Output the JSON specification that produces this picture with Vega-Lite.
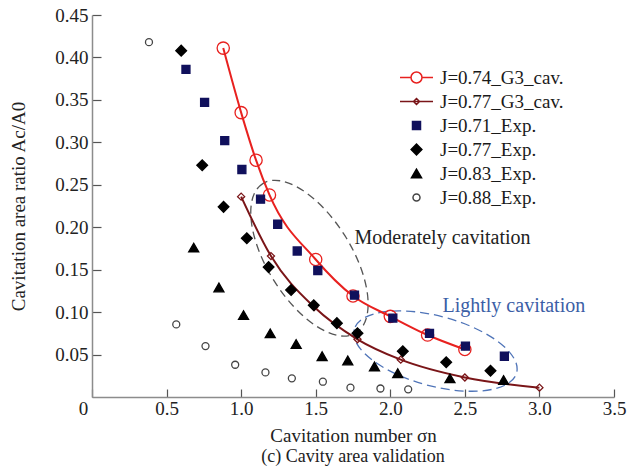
{
  "$schema": "https://vega.github.io/schema/vega-lite/v6.json",
  "width": 522,
  "height": 382,
  "autosize": "none",
  "padding": {"left": 92, "top": 15, "right": 14, "bottom": 75},
  "background": "white",
  "config": {
    "font": "Liberation Serif",
    "view": {"stroke": null},
    "axis": {
      "grid": false,
      "labelFontSize": 19,
      "titleFontSize": 19,
      "titleFontWeight": "normal",
      "labelColor": "#222222",
      "titleColor": "#222222",
      "domainColor": "#8c8c8c",
      "domainWidth": 1.5,
      "tickColor": "#555555",
      "tickWidth": 1.2,
      "labelFlush": false,
      "labelOverlap": false,
      "labelBound": false
    },
    "legend": {
      "padding": 0,
      "labelFont": "Liberation Serif",
      "labelFontSize": 19,
      "labelColor": "#1a1a1a",
      "labelOffset": 14,
      "symbolStrokeWidth": 1.5,
      "symbolOpacity": 1,
      "rowPadding": 4
    }
  },
  "title": {
    "text": "(c) Cavity area validation",
    "orient": "bottom",
    "anchor": "middle",
    "frame": "group",
    "fontSize": 18,
    "fontWeight": "normal",
    "font": "Liberation Serif",
    "color": "#222222",
    "offset": 3
  },
  "datasets": {
    "points": [
      {"series": "J=0.74_G3_cav.", "sigma": 0.88, "ratio": 0.411},
      {"series": "J=0.74_G3_cav.", "sigma": 1.0, "ratio": 0.335},
      {"series": "J=0.74_G3_cav.", "sigma": 1.1, "ratio": 0.279},
      {"series": "J=0.74_G3_cav.", "sigma": 1.19, "ratio": 0.238},
      {"series": "J=0.74_G3_cav.", "sigma": 1.5, "ratio": 0.162},
      {"series": "J=0.74_G3_cav.", "sigma": 1.75, "ratio": 0.119},
      {"series": "J=0.74_G3_cav.", "sigma": 2.0, "ratio": 0.095},
      {"series": "J=0.74_G3_cav.", "sigma": 2.25, "ratio": 0.073},
      {"series": "J=0.74_G3_cav.", "sigma": 2.5, "ratio": 0.056},
      {"series": "J=0.77_G3_cav.", "sigma": 1.0, "ratio": 0.236},
      {"series": "J=0.77_G3_cav.", "sigma": 1.2, "ratio": 0.166},
      {"series": "J=0.77_G3_cav.", "sigma": 1.49, "ratio": 0.106},
      {"series": "J=0.77_G3_cav.", "sigma": 1.78, "ratio": 0.068},
      {"series": "J=0.77_G3_cav.", "sigma": 2.07, "ratio": 0.044},
      {"series": "J=0.77_G3_cav.", "sigma": 2.5, "ratio": 0.023},
      {"series": "J=0.77_G3_cav.", "sigma": 3.0, "ratio": 0.011},
      {"series": "J=0.71_Exp.", "sigma": 0.63, "ratio": 0.386},
      {"series": "J=0.71_Exp.", "sigma": 0.755, "ratio": 0.347},
      {"series": "J=0.71_Exp.", "sigma": 0.89, "ratio": 0.302},
      {"series": "J=0.71_Exp.", "sigma": 1.005, "ratio": 0.268},
      {"series": "J=0.71_Exp.", "sigma": 1.13, "ratio": 0.233},
      {"series": "J=0.71_Exp.", "sigma": 1.245, "ratio": 0.2035},
      {"series": "J=0.71_Exp.", "sigma": 1.376, "ratio": 0.172},
      {"series": "J=0.71_Exp.", "sigma": 1.514, "ratio": 0.149},
      {"series": "J=0.71_Exp.", "sigma": 1.76, "ratio": 0.12},
      {"series": "J=0.71_Exp.", "sigma": 2.017, "ratio": 0.093},
      {"series": "J=0.71_Exp.", "sigma": 2.263, "ratio": 0.075},
      {"series": "J=0.71_Exp.", "sigma": 2.504, "ratio": 0.06},
      {"series": "J=0.71_Exp.", "sigma": 2.765, "ratio": 0.048},
      {"series": "J=0.77_Exp.", "sigma": 0.598, "ratio": 0.408},
      {"series": "J=0.77_Exp.", "sigma": 0.739, "ratio": 0.273},
      {"series": "J=0.77_Exp.", "sigma": 0.882, "ratio": 0.224},
      {"series": "J=0.77_Exp.", "sigma": 1.038, "ratio": 0.187},
      {"series": "J=0.77_Exp.", "sigma": 1.184, "ratio": 0.153},
      {"series": "J=0.77_Exp.", "sigma": 1.335, "ratio": 0.126},
      {"series": "J=0.77_Exp.", "sigma": 1.487, "ratio": 0.108},
      {"series": "J=0.77_Exp.", "sigma": 1.642, "ratio": 0.087},
      {"series": "J=0.77_Exp.", "sigma": 1.78, "ratio": 0.075},
      {"series": "J=0.77_Exp.", "sigma": 2.084, "ratio": 0.054},
      {"series": "J=0.77_Exp.", "sigma": 2.375, "ratio": 0.041},
      {"series": "J=0.77_Exp.", "sigma": 2.672, "ratio": 0.031},
      {"series": "J=0.83_Exp.", "sigma": 0.682, "ratio": 0.176},
      {"series": "J=0.83_Exp.", "sigma": 0.851, "ratio": 0.129},
      {"series": "J=0.83_Exp.", "sigma": 1.016, "ratio": 0.0965},
      {"series": "J=0.83_Exp.", "sigma": 1.195, "ratio": 0.075},
      {"series": "J=0.83_Exp.", "sigma": 1.369, "ratio": 0.0624},
      {"series": "J=0.83_Exp.", "sigma": 1.543, "ratio": 0.048},
      {"series": "J=0.83_Exp.", "sigma": 1.715, "ratio": 0.043},
      {"series": "J=0.83_Exp.", "sigma": 1.894, "ratio": 0.036},
      {"series": "J=0.83_Exp.", "sigma": 2.05, "ratio": 0.028},
      {"series": "J=0.83_Exp.", "sigma": 2.4, "ratio": 0.022},
      {"series": "J=0.83_Exp.", "sigma": 2.76, "ratio": 0.02},
      {"series": "J=0.88_Exp.", "sigma": 0.382, "ratio": 0.418},
      {"series": "J=0.88_Exp.", "sigma": 0.565, "ratio": 0.0855},
      {"series": "J=0.88_Exp.", "sigma": 0.761, "ratio": 0.06},
      {"series": "J=0.88_Exp.", "sigma": 0.96, "ratio": 0.038},
      {"series": "J=0.88_Exp.", "sigma": 1.163, "ratio": 0.029},
      {"series": "J=0.88_Exp.", "sigma": 1.34, "ratio": 0.022},
      {"series": "J=0.88_Exp.", "sigma": 1.548, "ratio": 0.018},
      {"series": "J=0.88_Exp.", "sigma": 1.733, "ratio": 0.011},
      {"series": "J=0.88_Exp.", "sigma": 1.934, "ratio": 0.01},
      {"series": "J=0.88_Exp.", "sigma": 2.12, "ratio": 0.009}
    ],
    "notes": [
      {"kind": "ellipse", "name": "Moderately cavitation", "sigma": 1.458, "ratio": 0.1635},
      {"kind": "ellipse", "name": "Lightly cavitation", "sigma": 2.303, "ratio": 0.0541},
      {"kind": "label", "name": "Moderately cavitation", "sigma": 1.76, "ratio": 0.187},
      {"kind": "label", "name": "Lightly cavitation", "sigma": 2.35, "ratio": 0.107}
    ]
  },
  "encoding": {
    "x": {
      "field": "sigma",
      "type": "quantitative",
      "scale": {"domain": [0, 3.5], "nice": false, "zero": false},
      "axis": {
        "values": [0, 0.5, 1, 1.5, 2, 2.5, 3, 3.5],
        "labelExpr": "datum.value === 0 ? '0' : format(datum.value, '.1f')",
        "title": "Cavitation number σn",
        "tickSize": -8,
        "labelPadding": 10,
        "titlePadding": 8,
        "labelOffset": {"condition": {"test": "datum.value === 0", "value": -9}, "value": 0}
      }
    },
    "y": {
      "field": "ratio",
      "type": "quantitative",
      "scale": {"domain": [0, 0.45], "nice": false, "zero": false},
      "axis": {
        "values": [0.05, 0.1, 0.15, 0.2, 0.25, 0.3, 0.35, 0.4, 0.45],
        "format": ".2f",
        "title": "Cavitation area ratio Ac/A0",
        "tickSize": -9,
        "labelPadding": 13,
        "titlePadding": 26
      }
    }
  },
  "layer": [
    {
      "data": {"name": "notes"},
      "transform": [{"filter": "datum.kind === 'ellipse' && datum.name === 'Moderately cavitation'"}],
      "mark": {
        "type": "point",
        "shape": "M-88,0A88,42,0,1,0,88,0A88,42,0,1,0,-88,0Z",
        "size": 4,
        "angle": 58,
        "filled": false,
        "color": "#555555",
        "strokeWidth": 1.3,
        "strokeDash": [8, 5],
        "opacity": 1
      }
    },
    {
      "data": {"name": "notes"},
      "transform": [{"filter": "datum.kind === 'ellipse' && datum.name === 'Lightly cavitation'"}],
      "mark": {
        "type": "point",
        "shape": "M-84,0A84,35,0,1,0,84,0A84,35,0,1,0,-84,0Z",
        "size": 4,
        "angle": 15,
        "filled": false,
        "color": "#4f74b8",
        "strokeWidth": 1.3,
        "strokeDash": [9, 5],
        "opacity": 1
      }
    },
    {
      "data": {"name": "points"},
      "transform": [{"filter": "indexof(datum.series, 'G3') >= 0"}],
      "mark": {"type": "line", "interpolate": "monotone", "strokeWidth": 2},
      "encoding": {
        "stroke": {
          "field": "series",
          "type": "nominal",
          "scale": {
            "domain": ["J=0.74_G3_cav.", "J=0.77_G3_cav.", "J=0.71_Exp.", "J=0.77_Exp.", "J=0.83_Exp.", "J=0.88_Exp."],
            "range": ["#e8211f", "#7a1518", "#10105c", "#000000", "#000000", "#444444"]
          },
          "legend": {"title": null, "orient": "none", "legendX": 315, "legendY": 53}
        }
      }
    },
    {
      "data": {"name": "points"},
      "transform": [{"filter": "datum.series === 'J=0.74_G3_cav.'"}],
      "mark": {"type": "point", "shape": "circle", "size": 150, "filled": false, "strokeWidth": 1.3, "opacity": 1},
      "encoding": {
        "stroke": {
          "field": "series",
          "type": "nominal",
          "scale": {
            "domain": ["J=0.74_G3_cav.", "J=0.77_G3_cav.", "J=0.71_Exp.", "J=0.77_Exp.", "J=0.83_Exp.", "J=0.88_Exp."],
            "range": ["#e8211f", "#7a1518", "#10105c", "#000000", "#000000", "#444444"]
          },
          "legend": {"title": null, "orient": "none", "legendX": 315, "legendY": 53}
        }
      }
    },
    {
      "data": {"name": "points"},
      "transform": [{"filter": "datum.series === 'J=0.77_G3_cav.'"}],
      "mark": {"type": "point", "shape": "diamond", "size": 50, "filled": false, "strokeWidth": 1.3, "opacity": 1},
      "encoding": {
        "stroke": {
          "field": "series",
          "type": "nominal",
          "scale": {
            "domain": ["J=0.74_G3_cav.", "J=0.77_G3_cav.", "J=0.71_Exp.", "J=0.77_Exp.", "J=0.83_Exp.", "J=0.88_Exp."],
            "range": ["#e8211f", "#7a1518", "#10105c", "#000000", "#000000", "#444444"]
          },
          "legend": {"title": null, "orient": "none", "legendX": 315, "legendY": 53}
        }
      }
    },
    {
      "data": {"name": "points"},
      "transform": [{"filter": "indexof(datum.series, 'Exp') >= 0"}],
      "mark": {"type": "point", "strokeWidth": 1.3, "opacity": 1},
      "encoding": {
        "stroke": {
          "field": "series",
          "type": "nominal",
          "scale": {
            "domain": ["J=0.74_G3_cav.", "J=0.77_G3_cav.", "J=0.71_Exp.", "J=0.77_Exp.", "J=0.83_Exp.", "J=0.88_Exp."],
            "range": ["#e8211f", "#7a1518", "#10105c", "#000000", "#000000", "#444444"]
          },
          "legend": {"title": null, "orient": "none", "legendX": 315, "legendY": 53}
        },
        "fill": {
          "field": "series",
          "type": "nominal",
          "scale": {
            "domain": ["J=0.74_G3_cav.", "J=0.77_G3_cav.", "J=0.71_Exp.", "J=0.77_Exp.", "J=0.83_Exp.", "J=0.88_Exp."],
            "range": ["transparent", "transparent", "#10105c", "#000000", "#000000", "transparent"]
          },
          "legend": {"title": null, "orient": "none", "legendX": 315, "legendY": 53}
        },
        "shape": {
          "field": "series",
          "type": "nominal",
          "scale": {
            "domain": ["J=0.74_G3_cav.", "J=0.77_G3_cav.", "J=0.71_Exp.", "J=0.77_Exp.", "J=0.83_Exp.", "J=0.88_Exp."],
            "range": ["M-3.3,0L-1.1,0M1.1,0L3.3,0M-1.1,0A1.1,1.1,0,1,1,1.1,0A1.1,1.1,0,1,1,-1.1,0Z", "M-3.3,0L3.3,0M-0.6,0L0,-0.6L0.6,0L0,0.6Z", "square", "diamond", "triangle-up", "circle"]
          },
          "legend": {"title": null, "orient": "none", "legendX": 315, "legendY": 53}
        },
        "size": {
          "field": "series",
          "type": "nominal",
          "scale": {
            "type": "ordinal",
            "domain": ["J=0.74_G3_cav.", "J=0.77_G3_cav.", "J=0.71_Exp.", "J=0.77_Exp.", "J=0.83_Exp.", "J=0.88_Exp."],
            "range": [100, 100, 64, 115, 100, 49]
          },
          "legend": {"title": null, "orient": "none", "legendX": 315, "legendY": 53}
        }
      }
    },
    {
      "data": {"name": "notes"},
      "transform": [{"filter": "datum.kind === 'label'"}],
      "mark": {"type": "text", "align": "left", "baseline": "middle", "fontSize": 20, "font": "Liberation Serif"},
      "encoding": {
        "text": {"field": "name", "type": "nominal"},
        "color": {
          "field": "name",
          "type": "nominal",
          "scale": {"domain": ["Moderately cavitation", "Lightly cavitation"], "range": ["#222222", "#3b5ea6"]},
          "legend": null
        }
      }
    }
  ]
}
